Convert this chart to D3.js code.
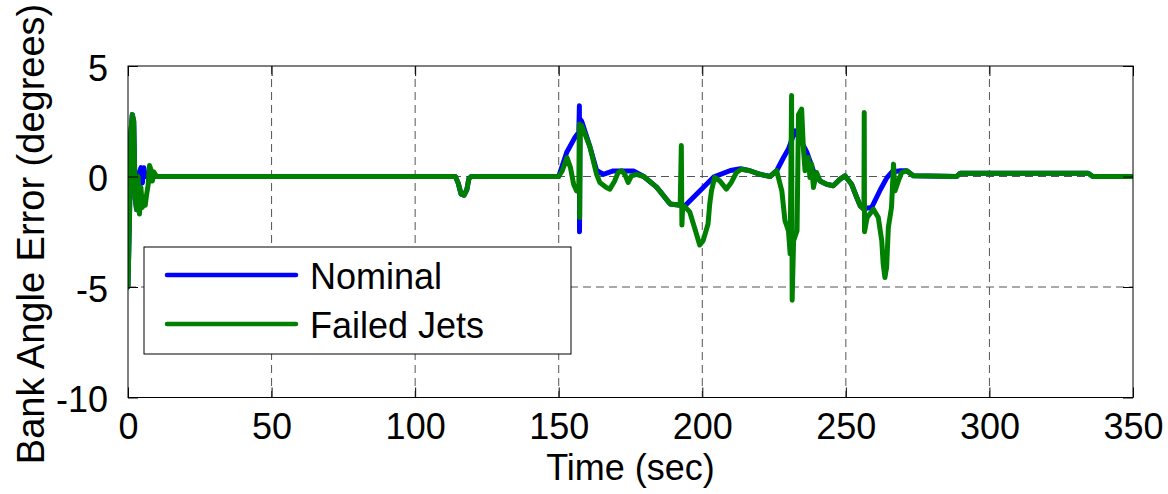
<!DOCTYPE html>
<html>
<head>
<meta charset="utf-8">
<script src="https://cdn.jsdelivr.net/npm/d3@7"></script>
<style>
  body { margin: 0; background: #fff; }
  svg text { font-family: "Liberation Sans", Arial, sans-serif; fill: #000; }
</style>
</head>
<body>
<div id="chart"></div>
<script>
// Chart size
const width = 1168;
const height = 494;

// Axis ticks
const xTicks = [0, 50, 100, 150, 200, 250, 300, 350];
const yTicks = [-10, -5, 0, 5];

// Series: time (sec) and bank angle error (degrees)
const nominalT = [0, 0.5, 1, 1.5, 2, 2.5, 3, 3.5, 4.5, 5, 5.5, 6, 10, 114, 115, 116, 117, 118, 118.7, 119.5,
  150, 152.8, 155.7, 157, 157.2, 157.25, 157.4, 158, 160.9, 163.2, 165.5, 169, 176, 179.6, 184.1, 188.8, 192.3,
  193.9, 203.9, 209.8, 213.3, 216.6, 220.1, 223.6, 225.9, 228.3, 230, 232.3, 234, 236.4, 238.7, 241, 243.3,
  245.6, 248, 249.7, 252, 253.8, 255, 256.5, 259, 262, 264.3, 266, 269, 271.2, 273.5, 288.6, 289.8, 334.4, 336, 350];
const nominalV = [-5, -2, 2, 2.8, 2.5, -1, -1.5, 0, 0.4, -0.3, 0.4, 0, 0, 0, -0.3, -0.8, -0.85, -0.6, -0.1, 0,
  0, 1.1, 1.78, 2, 3.2, -2.5, 2.6, 2.5, 1.33, 0.27, 0.1, 0.25, 0.25, 0, -0.48, -1.24, -1.3,
  -1.33, -0.03, 0.27, 0.35, 0.26, 0.1, 0, 0.26, 0.86, 1.24, 2.07, 1.7, 1.1, 0.26, -0.2, -0.35,
  -0.42, -0.12, 0.03, -0.35, -0.95, -1.33, -1.45, -1.4, -0.6, -0.05, 0.2, 0.26, 0.26, 0.03, 0, 0.15, 0.15, 0, 0];

const failedT = [0, 0.5, 1, 1.5, 2, 2.5, 3, 3.5, 4, 4.5, 5, 5.5, 6, 6.5, 7, 7.5, 8, 8.5, 9, 10,
  114, 115, 116, 117, 118, 118.7, 119.5, 150, 151.2, 152.9, 154.1, 155.2, 156.2, 157, 157.2, 157.3, 157.5, 158,
  160.9, 163.2, 164.3, 166.6, 167.8, 169.5, 170.7, 171.9, 173, 174.2, 175.3, 177.1, 179.6, 184.1, 188.8, 192.3,
  192.7, 192.9, 193.2, 193.9, 195.6, 197.4, 199.1, 200.3, 202, 202.6, 203.2, 204.3, 206.1, 208.4, 210.1, 211.9,
  213.6, 216.6, 220.1, 223.6, 225.9, 227.7, 228.8, 230, 230.6, 231.1, 231.3, 231.8, 233, 233.5, 234.6, 235.2,
  235.8, 236.9, 237.5, 238.1, 238.7, 239.8, 241, 243.3, 245.6, 248, 249.7, 252, 253.8, 255, 256.3, 256.4, 256.5,
  257.4, 259.6, 261.3, 262.5, 263, 263.6, 264.2, 264.8, 265.9, 266.6, 267.1, 268.3, 269.4, 271.2, 273.5,
  288.6, 289.8, 334.4, 336, 350];
const failedV = [-5, -2, 2, 2.8, 2.5, -1, -1.5, 0, -1.7, -0.5, -1.4, -1, -1.3, -0.8, -0.4, 0.5, 0.3, -0.2, 0.2, 0,
  0, -0.3, -0.8, -0.85, -0.6, -0.1, 0, 0, 0.25, 0.85, 0.4, -0.35, -0.65, -0.5, 2.37, -1.86, 2.2, 2.3,
  1.33, 0.1, -0.27, -0.5, -0.57, -0.2, 0.18, 0.26, 0.1, -0.27, 0.03, 0.1, 0, -0.48, -1.24, -1.3,
  1.4, -2.2, -1.3, -1.36, -1.6, -2.35, -3.1, -2.9, -2.15, -1.24, -0.65, -0.04, -0.2, -0.57, -0.27, 0.18,
  0.33, 0.26, 0.1, 0, 0.26, -0.65, -2.0, -2.45, -3.5, 3.66, -5.6, -2.9, -2.45, 2.8, 3.05, 1.3,
  0.26, 0.86, -0.05, 0.56, -0.5, 0.18, -0.2, -0.35, -0.42, -0.12, 0.03, -0.35, -0.95, -1.33, -1.5, 2.9, -2.5,
  -1.86, -1.48, -1.86, -2.9, -3.96, -4.57, -4.1, -2.3, -1.4, 0.56, -0.65, -0.2, 0.18, 0.26, 0.03,
  0, 0.15, 0.15, 0, 0];

const seriesNames = ["Nominal", "Failed Jets"];
const seriesColors = ["#0000ff", "#008000"];

// Plot area
const plotL = 128, plotR = 1133, plotT = 66, plotB = 397.5;

const x = d3.scaleLinear().domain([0, 350]).range([plotL, plotR]);
const y = d3.scaleLinear().domain([-10, 5]).range([plotB, plotT]);

const svg = d3.select("#chart")
    .append("svg")
    .attr("width", width)
    .attr("height", height);

// Dashed grid
const grid = svg.append("g")
    .attr("stroke", "#555")
    .attr("stroke-width", 1)
    .attr("stroke-dasharray", "8,5");
grid.selectAll("line.gx")
    .data(xTicks.slice(1, -1))
    .join("line")
    .attr("class", "gx")
    .attr("x1", d => x(d)).attr("x2", d => x(d))
    .attr("y1", plotT).attr("y2", plotB);
grid.selectAll("line.gy")
    .data(yTicks.slice(1, -1))
    .join("line")
    .attr("class", "gy")
    .attr("x1", plotL).attr("x2", plotR)
    .attr("y1", d => y(d)).attr("y2", d => y(d));

// Lines
svg.append("clipPath").attr("id", "clip")
    .append("rect")
    .attr("x", plotL).attr("y", plotT)
    .attr("width", plotR - plotL).attr("height", plotB - plotT);

const line = d3.line()
    .x(d => x(d[0]))
    .y(d => y(d[1]));

const series = [
    d3.zip(nominalT, nominalV),
    d3.zip(failedT, failedV)
];

svg.append("g")
    .attr("clip-path", "url(#clip)")
    .selectAll("path")
    .data(series)
    .join("path")
    .attr("fill", "none")
    .attr("stroke", (d, i) => seriesColors[i])
    .attr("stroke-width", 5)
    .attr("stroke-linejoin", "round")
    .attr("stroke-linecap", "round")
    .attr("d", line);

// Axes box with inward ticks (plain hyphen for negatives, like the original)
const tickLen = 10;
const fmt = d => String(d);
const axes = svg.append("g");
axes.append("g")
    .attr("transform", `translate(0,${plotB})`)
    .call(d3.axisBottom(x).tickValues(xTicks).tickFormat(fmt).tickSize(-tickLen).tickPadding(tickLen + 6))
    .call(g => g.select(".domain").remove())
    .call(g => g.selectAll("text").attr("font-size", 36).attr("dy", "0.71em"));
axes.append("g")
    .attr("transform", `translate(0,${plotT})`)
    .call(d3.axisTop(x).tickValues(xTicks).tickSize(-tickLen).tickFormat(""))
    .call(g => g.select(".domain").remove());
axes.append("g")
    .attr("transform", `translate(${plotL},0)`)
    .call(d3.axisLeft(y).tickValues(yTicks).tickFormat(fmt).tickSize(-tickLen).tickPadding(tickLen + 10))
    .call(g => g.select(".domain").remove())
    .call(g => g.selectAll("text").attr("font-size", 36).attr("dy", "0.4em"));
axes.append("g")
    .attr("transform", `translate(${plotR},0)`)
    .call(d3.axisRight(y).tickValues(yTicks).tickSize(-tickLen).tickFormat(""))
    .call(g => g.select(".domain").remove());
axes.selectAll(".tick line").attr("stroke", "#000");

axes.append("rect")
    .attr("x", plotL).attr("y", plotT)
    .attr("width", plotR - plotL).attr("height", plotB - plotT)
    .attr("fill", "none")
    .attr("stroke", "#000")
    .attr("stroke-width", 1);

// Axis labels
svg.append("text")
    .attr("x", (plotL + plotR) / 2)
    .attr("y", 480)
    .attr("text-anchor", "middle")
    .attr("font-size", 36)
    .text("Time (sec)");

svg.append("text")
    .attr("transform", "translate(44,234) rotate(-90)")
    .attr("text-anchor", "middle")
    .attr("font-size", 38)
    .text("Bank Angle Error (degrees)");

// Legend
const legend = svg.append("g");
legend.append("rect")
    .attr("x", 144).attr("y", 247)
    .attr("width", 427).attr("height", 107)
    .attr("fill", "#fff")
    .attr("stroke", "#000")
    .attr("stroke-width", 1);
const items = legend.selectAll("g.item")
    .data(seriesNames)
    .join("g")
    .attr("class", "item")
    .attr("transform", (d, i) => `translate(0,${i ? 324 : 275})`);
items.append("line")
    .attr("x1", 167).attr("x2", 296)
    .attr("stroke", (d, i) => seriesColors[i])
    .attr("stroke-width", 4.5)
    .attr("stroke-linecap", "round");
items.append("text")
    .attr("x", 310)
    .attr("y", 14)
    .attr("font-size", 36)
    .text(d => d);
</script>
</body>
</html>
